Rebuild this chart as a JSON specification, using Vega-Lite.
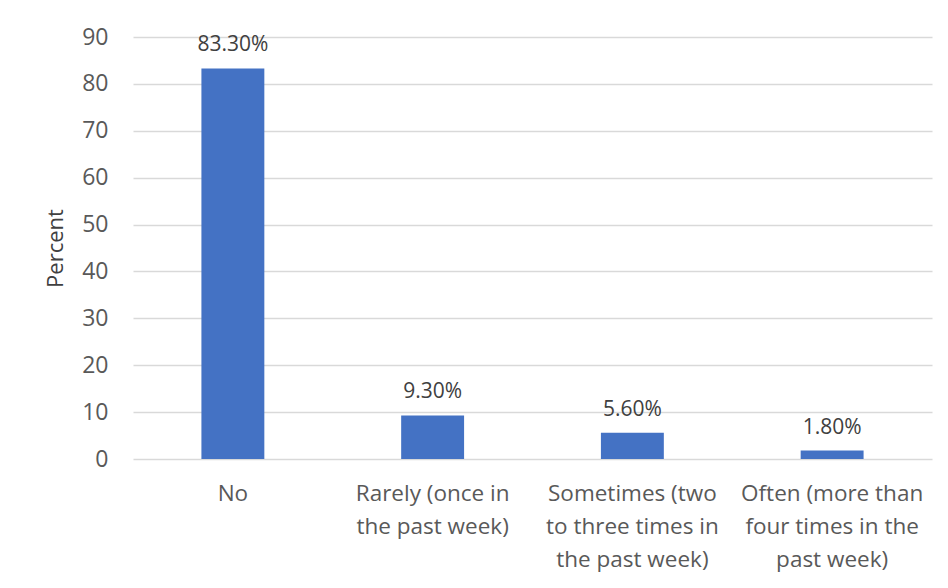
{
  "$schema": "https://vega.github.io/schema/vega-lite/v6.json",
  "width": 799,
  "height": 422,
  "padding": {"left": 133, "top": 37, "right": 16, "bottom": 129},
  "autosize": {"type": "none"},
  "background": "white",
  "config": {
    "view": {"stroke": null},
    "font": "Open Sans"
  },
  "data": {
    "values": [
      {"cat": "No", "value": 83.3, "text": "83.30%"},
      {"cat": "Rarely", "value": 9.3, "text": "9.30%"},
      {"cat": "Sometimes", "value": 5.6, "text": "5.60%"},
      {"cat": "Often", "value": 1.8, "text": "1.80%"}
    ]
  },
  "encoding": {
    "x": {
      "field": "cat",
      "type": "nominal",
      "sort": null,
      "scale": {"paddingInner": 0.685, "paddingOuter": 0.3425},
      "axis": {
        "title": null,
        "labelAngle": 0,
        "domain": false,
        "ticks": false,
        "labelExpr": "datum.value == 'No' ? ['No'] : datum.value == 'Rarely' ? ['Rarely (once in', 'the past week)'] : datum.value == 'Sometimes' ? ['Sometimes (two', 'to three times in', 'the past week)'] : ['Often (more than', 'four times in the', 'past week)']",
        "labelFontSize": 22.5,
        "labelColor": "#595959",
        "labelPadding": 23,
        "labelLineHeight": 33,
        "labelLimit": 300
      }
    }
  },
  "layer": [
    {
      "mark": {"type": "bar", "color": "#4472C4"},
      "encoding": {
        "y": {
          "field": "value",
          "type": "quantitative",
          "scale": {"domain": [0, 90]},
          "axis": {
            "title": "Percent",
            "titleFontSize": 22,
            "titleFontWeight": "normal",
            "titleColor": "#404040",
            "titlePadding": 14,
            "values": [0, 10, 20, 30, 40, 50, 60, 70, 80, 90],
            "domain": false,
            "ticks": false,
            "grid": true,
            "gridColor": "#D9D9D9",
            "gridWidth": 1.5,
            "labelFontSize": 23,
            "labelColor": "#595959",
            "labelPadding": 25
          }
        }
      }
    },
    {
      "mark": {"type": "text", "dy": -13, "fontSize": 21, "color": "#404040", "baseline": "bottom"},
      "encoding": {
        "y": {"field": "value", "type": "quantitative"},
        "text": {"field": "text"}
      }
    }
  ]
}
